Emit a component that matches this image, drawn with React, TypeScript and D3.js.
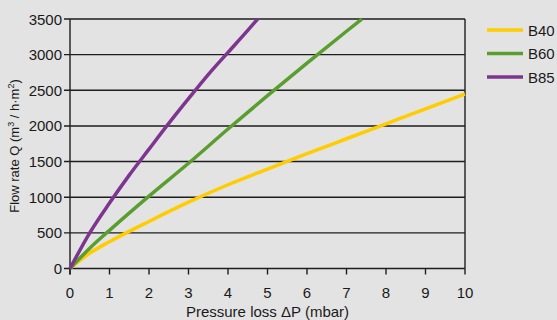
import React from 'react';
import * as d3 from 'd3';

// values
const seriesNames = ['B40', 'B60', 'B85'];
const seriesColors = ['#ffcc00', '#5a9e2f', '#7d3590'];

const b40Pressure = [0, 0.5, 1, 2, 3, 4, 5, 6, 7, 8, 9, 10];
const b40Flow = [0, 215, 375, 660, 930, 1175, 1395, 1610, 1820, 2030, 2240, 2446];

const b60Pressure = [0, 0.5, 1, 2, 3, 4, 5, 6, 7, 7.39];
const b60Flow = [0, 285, 535, 1015, 1476, 1957, 2425, 2882, 3328, 3500];

const b85Pressure = [0, 0.5, 1, 1.5, 2, 2.5, 3, 3.5, 4, 4.5, 4.75];
const b85Flow = [0, 500, 918, 1310, 1674, 2035, 2382, 2720, 3031, 3340, 3500];

const xTicks = [0, 1, 2, 3, 4, 5, 6, 7, 8, 9, 10];
const yTicks = [0, 500, 1000, 1500, 2000, 2500, 3000, 3500];

const W = 557;
const H = 320;
const left = 70;
const right = 465;
const top = 19;
const bottom = 268.5;

export default function App() {
  const x = d3.scaleLinear().domain([0, 10]).range([left, right]);
  const y = d3.scaleLinear().domain([0, 3500]).range([bottom, top]);

  const series = [
    { name: seriesNames[0], color: seriesColors[0], xs: b40Pressure, ys: b40Flow },
    { name: seriesNames[1], color: seriesColors[1], xs: b60Pressure, ys: b60Flow },
    { name: seriesNames[2], color: seriesColors[2], xs: b85Pressure, ys: b85Flow },
  ];

  const line = d3
    .line<[number, number]>()
    .x(d => x(d[0]))
    .y(d => y(d[1]))
    .curve(d3.curveMonotoneX);

  const font = 'Liberation Sans, Arial, sans-serif';

  return (
    <div style={{ position: 'fixed', left: 0, top: 0 }}>
      <svg width={W} height={H} style={{ display: 'block', background: '#e3e3e3' }} fontFamily={font}>
        {/* grid lines */}
        {yTicks.map(t => (
          <line key={'g' + t} x1={left - 6} x2={right} y1={y(t)} y2={y(t)} stroke="#1e1e1e" strokeWidth={1.4} />
        ))}
        <line x1={right} x2={right} y1={top} y2={bottom} stroke="#1e1e1e" strokeWidth={1.4} />
        <line x1={left} x2={left} y1={top} y2={bottom + 6} stroke="#1e1e1e" strokeWidth={1.4} />
        {xTicks.map(t => (
          <line key={'xt' + t} x1={x(t)} x2={x(t)} y1={bottom} y2={bottom + 6} stroke="#1e1e1e" strokeWidth={1.4} />
        ))}

        {/* tick labels */}
        {yTicks.map(t => (
          <text key={'yl' + t} x={62} y={y(t) + 5.5} textAnchor="end" fontSize={15} fill="#1a1a1a">
            {t}
          </text>
        ))}
        {xTicks.map(t => (
          <text key={'xl' + t} x={x(t)} y={298} textAnchor="middle" fontSize={15} fill="#1a1a1a">
            {t}
          </text>
        ))}

        <text x={x(5)} y={317} textAnchor="middle" fontSize={15} fill="#1a1a1a">
          Pressure loss ΔP (mbar)
        </text>
        <text transform={`translate(19, 146) rotate(-90)`} textAnchor="middle" fontSize={13} fill="#1a1a1a">
          Flow rate Q (m<tspan fontSize={9} dy={-5}>3</tspan>
          <tspan dy={5}> / h·m</tspan>
          <tspan fontSize={9} dy={-5}>2</tspan>
          <tspan dy={5}>)</tspan>
        </text>

        {/* curves */}
        {series.map(s => (
          <path
            key={s.name}
            d={line(s.xs.map((v, i) => [v, s.ys[i]] as [number, number])) || ''}
            fill="none"
            stroke={s.color}
            strokeWidth={3.5}
          />
        ))}

        {/* legend */}
        {series.map((s, i) => (
          <g key={'lg' + s.name} transform={`translate(487, ${30 + i * 23.5})`}>
            <line x1={0} x2={36} y1={0} y2={0} stroke={s.color} strokeWidth={3.5} />
            <text x={41} y={5.5} fontSize={15} fill="#1a1a1a">
              {s.name}
            </text>
          </g>
        ))}
      </svg>
    </div>
  );
}
